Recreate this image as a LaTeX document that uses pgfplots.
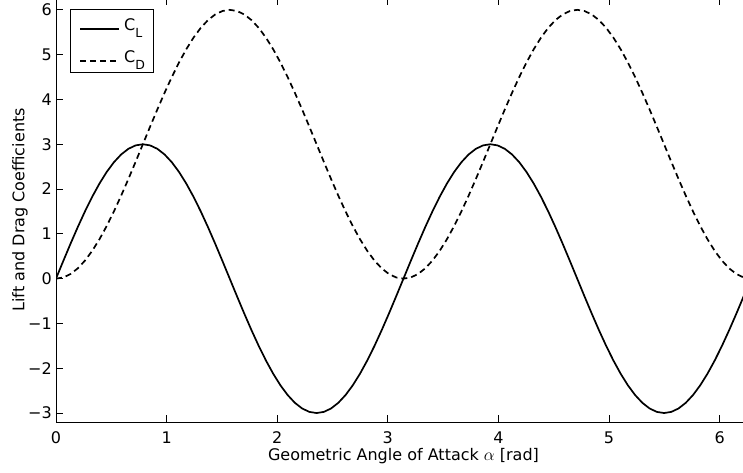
\documentclass[border=0pt]{standalone}
\usepackage{pgfplots}
\pgfplotsset{compat=1.18}
\usepackage{pgfplotstable}
\usepackage{fontspec}
\setmainfont{DejaVu Sans}

% alpha [rad], lift coefficient, drag coefficient
\pgfplotstableread{
a CL CD
0 0 0
0.0654 0.3916 0.0257
0.1309 0.7765 0.1022
0.1963 1.1480 0.2284
0.2618 1.5000 0.4019
0.3272 1.8263 0.6199
0.3927 2.1213 0.8787
0.4581 2.3801 1.1737
0.5236 2.5981 1.5000
0.5890 2.7716 1.8520
0.6545 2.8978 2.2235
0.7199 2.9743 2.6084
0.7854 3.0000 3.0000
0.8508 2.9743 3.3916
0.9163 2.8978 3.7765
0.9817 2.7716 4.1480
1.0472 2.5981 4.5000
1.1126 2.3801 4.8263
1.1781 2.1213 5.1213
1.2435 1.8263 5.3801
1.3090 1.5000 5.5981
1.3744 1.1480 5.7716
1.4399 0.7765 5.8978
1.5053 0.3916 5.9743
1.5708 0.0000 6.0000
1.6362 -0.3916 5.9743
1.7017 -0.7765 5.8978
1.7671 -1.1480 5.7716
1.8326 -1.5000 5.5981
1.8980 -1.8263 5.3801
1.9635 -2.1213 5.1213
2.0289 -2.3801 4.8263
2.0944 -2.5981 4.5000
2.1598 -2.7716 4.1480
2.2253 -2.8978 3.7765
2.2907 -2.9743 3.3916
2.3562 -3.0000 3.0000
2.4216 -2.9743 2.6084
2.4871 -2.8978 2.2235
2.5525 -2.7716 1.8520
2.6180 -2.5981 1.5000
2.6834 -2.3801 1.1737
2.7489 -2.1213 0.8787
2.8143 -1.8263 0.6199
2.8798 -1.5000 0.4019
2.9452 -1.1480 0.2284
3.0107 -0.7765 0.1022
3.0761 -0.3916 0.0257
3.1416 0.0000 0.0000
3.2070 0.3916 0.0257
3.2725 0.7765 0.1022
3.3379 1.1480 0.2284
3.4034 1.5000 0.4019
3.4688 1.8263 0.6199
3.5343 2.1213 0.8787
3.5997 2.3801 1.1737
3.6652 2.5981 1.5000
3.7306 2.7716 1.8520
3.7961 2.8978 2.2235
3.8615 2.9743 2.6084
3.9270 3.0000 3.0000
3.9924 2.9743 3.3916
4.0579 2.8978 3.7765
4.1233 2.7716 4.1480
4.1888 2.5981 4.5000
4.2542 2.3801 4.8263
4.3197 2.1213 5.1213
4.3851 1.8263 5.3801
4.4506 1.5000 5.5981
4.5160 1.1480 5.7716
4.5815 0.7765 5.8978
4.6469 0.3916 5.9743
4.7124 0.0000 6.0000
4.7778 -0.3916 5.9743
4.8433 -0.7765 5.8978
4.9087 -1.1480 5.7716
4.9742 -1.5000 5.5981
5.0396 -1.8263 5.3801
5.1051 -2.1213 5.1213
5.1705 -2.3801 4.8263
5.2360 -2.5981 4.5000
5.3014 -2.7716 4.1480
5.3669 -2.8978 3.7765
5.4323 -2.9743 3.3916
5.4978 -3.0000 3.0000
5.5632 -2.9743 2.6084
5.6287 -2.8978 2.2235
5.6941 -2.7716 1.8520
5.7596 -2.5981 1.5000
5.8250 -2.3801 1.1737
5.8905 -2.1213 0.8787
5.9559 -1.8263 0.6199
6.0214 -1.5000 0.4019
6.0868 -1.1480 0.2284
6.1523 -0.7765 0.1022
6.2177 -0.3916 0.0257
6.2832 0.0000 0.0000
}\coeffs

\newcommand{\chartfont}{\fontsize{16bp}{19bp}\selectfont}
% coefficient symbol with a lowered upright subscript
\newcommand{\coef}[1]{C\raisebox{-7bp}{\fontsize{12.5bp}{13bp}\selectfont #1}\hspace{27bp}}

\begin{document}
\begin{tikzpicture}
\begin{axis}[
  at={(0,0)}, anchor=south west,
  x=110.6bp, y=44.8bp,
  xmin=0, xmax=6.2832, ymin=-3.2, ymax=6.27,
  xtick={0,1,2,3,4,5,6},
  xticklabels={0,1,2,3,4,5,6},
  ytick={-3,-2,-1,0,1,2,3,4,5,6},
  yticklabels={−3,−2,−1,0,1,2,3,4,5,6},
  tick align=inside,
  major tick length=7bp,
  tick style={line width=0.9bp, black},
  axis line style={line width=1bp},
  tick label style={font=\chartfont, inner sep=0pt},
  xticklabel style={anchor=base, yshift=-21bp},
  yticklabel style={anchor=east, xshift=-4bp},
  every axis x label/.style={at={(axis description cs:0.5,0)}, yshift=-38bp,
    anchor=base, font=\chartfont, inner sep=0pt},
  every axis y label/.style={at={(axis description cs:0,0.5)}, xshift=-44bp,
    rotate=90, anchor=north, font=\chartfont, inner sep=0pt},
  xlabel={Geometric Angle of Attack $\alpha$ [rad]},
  ylabel={Lift and Drag Coefficients},
  legend cell align=left,
  legend image code/.code={%
    \path[draw=none] (0bp,4bp) -- (0bp,-4bp);
    \draw[#1] (0bp,-4bp) -- (39bp,-4bp);},
  legend style={
    at={(axis description cs:0,1)}, anchor=north west,
    xshift=14bp, yshift=-11bp,
    font=\chartfont, draw=black, line width=0.9bp,
    inner xsep=9bp, inner ysep=9bp, row sep=19bp, column sep=4bp,
    nodes={inner sep=0pt},
  },
]
\addplot[black, line width=1.7bp] table[x=a, y=CL] {\coeffs};
\addlegendentry{\coef{L}}
\addplot[black, line width=1.7bp, dash pattern=on 6bp off 4bp] table[x=a, y=CD] {\coeffs};
\addlegendentry{\coef{D}}
\end{axis}
\pgfresetboundingbox
\useasboundingbox (-56bp,-51bp) rectangle (687bp,422bp);
\end{tikzpicture}
\end{document}
